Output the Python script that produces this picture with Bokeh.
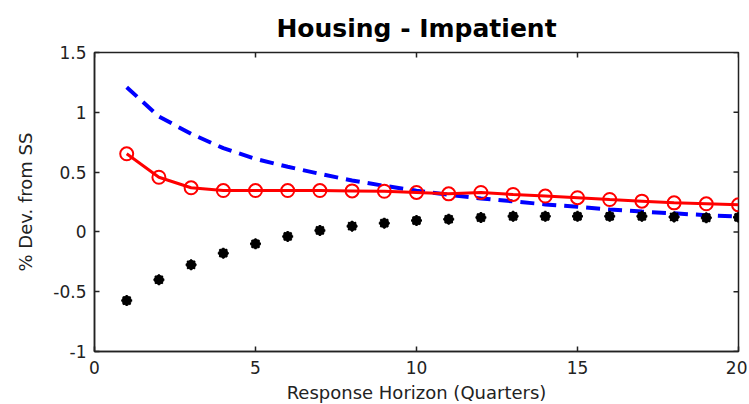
from bokeh.plotting import figure
from bokeh.models import FixedTicker, Range1d
from bokeh.embed import file_html
from bokeh.resources import INLINE

horizon = list(range(1, 21))
patient_dashed = [1.21, 0.965, 0.82, 0.70, 0.61, 0.545, 0.485, 0.43, 0.385, 0.345,
                  0.31, 0.28, 0.255, 0.23, 0.21, 0.187, 0.17, 0.155, 0.14, 0.128]
impatient_red = [0.653, 0.457, 0.369, 0.346, 0.346, 0.346, 0.346, 0.343, 0.34, 0.33,
                 0.318, 0.33, 0.313, 0.30, 0.286, 0.271, 0.257, 0.243, 0.235, 0.226]
black_dots = [-0.574, -0.40, -0.275, -0.178, -0.10, -0.038, 0.012, 0.048, 0.073, 0.095,
              0.106, 0.12, 0.13, 0.13, 0.13, 0.13, 0.13, 0.125, 0.118, 0.122]
x_ticks = [0, 5, 10, 15, 20]
y_ticks = [-1, -0.5, 0, 0.5, 1, 1.5]
x_lim = (0, 20)
y_lim = (-1, 1.5)

FONT = "DejaVu Sans"
AX = "#222222"
FRAME_W, FRAME_H = 644, 299
TICK_PX = 5

p = figure(frame_width=FRAME_W, frame_height=FRAME_H, output_backend="svg",
           toolbar_location=None,
           x_range=Range1d(*x_lim), y_range=Range1d(*y_lim),
           min_border_left=94, min_border_right=9, min_border_top=52, min_border_bottom=51,
           title="Housing - Impatient")
p.title.align = "center"
p.title.text_font = FONT
p.title.text_font_size = "25px"
p.title.text_font_style = "bold"
p.title.text_color = "black"
p.title.standoff = 20

p.xgrid.visible = False
p.ygrid.visible = False
p.outline_line_color = AX
p.outline_line_width = 1.5

for ax in (p.xaxis[0], p.yaxis[0]):
    ax.major_tick_in = TICK_PX
    ax.major_tick_out = 0
    ax.minor_tick_line_color = None
    ax.axis_line_color = AX
    ax.axis_line_width = 1.5
    ax.major_tick_line_color = AX
    ax.major_tick_line_width = 1.5
    ax.major_label_text_font = FONT
    ax.major_label_text_font_size = "17px"
    ax.major_label_text_color = AX
    ax.axis_label_text_font = FONT
    ax.axis_label_text_font_size = "18px"
    ax.axis_label_text_font_style = "normal"
    ax.axis_label_text_color = AX

p.xaxis[0].ticker = FixedTicker(ticks=x_ticks)
p.yaxis[0].ticker = FixedTicker(ticks=y_ticks)
p.yaxis[0].major_label_overrides = {v: ("%g" % v) for v in y_ticks}
p.xaxis[0].axis_label = "Response Horizon (Quarters)"
p.yaxis[0].axis_label = "% Dev. from SS"
p.xaxis[0].major_label_standoff = 9
p.yaxis[0].major_label_standoff = 8
p.xaxis[0].axis_label_standoff = 5
p.yaxis[0].axis_label_standoff = 14

# inward ticks on the top and right edges of the box (5 px long)
dy = TICK_PX * (y_lim[1] - y_lim[0]) / FRAME_H
dx = TICK_PX * (x_lim[1] - x_lim[0]) / FRAME_W
p.segment(x0=x_ticks, y0=[y_lim[1]] * len(x_ticks),
          x1=x_ticks, y1=[y_lim[1] - dy] * len(x_ticks),
          line_color=AX, line_width=1.5)
p.segment(x0=[x_lim[1]] * len(y_ticks), y0=y_ticks,
          x1=[x_lim[1] - dx] * len(y_ticks), y1=y_ticks,
          line_color=AX, line_width=1.5)

p.line(horizon, patient_dashed, line_color="#0000FF", line_width=4, line_dash="14 8")
p.line(horizon, impatient_red, line_color="#FF0000", line_width=3)
p.scatter(horizon, impatient_red, marker="circle", size=13, fill_color=None,
          line_color="#FF0000", line_width=2)
p.scatter(horizon, black_dots, marker="circle", size=9, fill_color="black",
          line_color="black")
p.scatter(horizon, black_dots, marker="asterisk", size=11, line_color="black",
          line_width=2)

open("out.html", "w").write(file_html(p, INLINE))
